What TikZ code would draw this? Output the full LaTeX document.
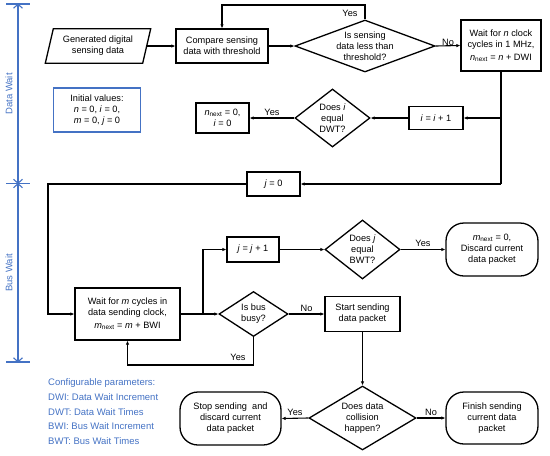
\documentclass[tikz,border=0pt]{standalone}
\usepackage{fontspec}
\setmainfont{Liberation Sans}
\usetikzlibrary{arrows.meta,shapes.geometric}
\definecolor{axblue}{RGB}{68,114,196}
\begin{document}
\begin{tikzpicture}[x=1pt,y=-1pt,
  font=\fontsize{9.2}{11}\selectfont,
  box/.style={draw,line width=1.3pt,align=center,inner sep=1pt},
  term/.style={box,rounded corners=18pt},
  dia/.style={draw,diamond,line width=1.3pt,inner sep=0pt},
  txt/.style={align=center,inner sep=0pt},
  conn/.style={line width=1.1pt,-{Latex[length=4pt,width=3.5pt]}},
  plain/.style={line width=1.1pt},
  ax/.style={axblue,line width=1.1pt},
  axarr/.style={ax,{Straight Barb[length=4pt,width=9pt]}-{Straight Barb[length=4pt,width=9pt]}},
  lbl/.style={inner sep=1pt},
  cfg/.style={axblue,anchor=west,inner sep=0pt,font=\fontsize{9.5}{10}\selectfont}]
\useasboundingbox (0,0) rectangle (550,456);
% axis
\coordinate (a0) at (18,4); \coordinate (a1) at (18,183.5); \coordinate (a2) at (18,362);
\draw[ax] (6,4) -- (30,4);
\draw[ax] (6,183.5) -- (30,183.5);
\draw[ax] (6,362) -- (30,362);
\draw[axarr] ([yshift=0.5]a0) -- ([yshift=-0.5]a1);
\draw[axarr] ([yshift=0.5]a1) -- ([yshift=-0.5]a2);
\node[axblue,rotate=90,font=\fontsize{9.5}{10}\selectfont] (dw) at (9,94) {Data Wait};
\node[axblue,rotate=90,font=\fontsize{9.5}{10}\selectfont] (bw) at (9,273) {Bus Wait};
% nodes
\node[txt,minimum width=97,minimum height=34] (gen) at (98,46) {Generated digital\\sensing data};
\draw[line width=1.3pt] ([xshift=4]gen.north west) -- ([xshift=4]gen.north east) -- ([xshift=-4]gen.south east) -- ([xshift=-4]gen.south west) -- cycle;
\node[box,minimum width=92,minimum height=34] (cmp) at (222,46) {Compare sensing\\data with threshold};
\node[dia,minimum width=140,minimum height=52] (d1) at (365,46) {};
\node[txt] (d1t) at (d1) {Is sensing\\data less than\\threshold?};
\node[box,minimum width=80,minimum height=51] (wn) at (501,45.5) {Wait for \textit{n} clock\\cycles in 1 MHz,\\[2pt]\textit{n}\textsubscript{next} = \textit{n} + DWI};
\node[box,minimum width=54,minimum height=23] (ii) at (436,118) {\textit{i} = \textit{i} + 1};
\node[dia,minimum width=75,minimum height=58] (di) at (332.5,118) {};
\node[txt] (dit) at (di) {Does \textit{i}\\equal\\DWT?};
\node[box,minimum width=53,minimum height=30] (nn) at (222.5,118) {\textit{n}\textsubscript{next} = 0,\\\textit{i} = 0};
\node[draw=axblue,line width=1.5pt,align=center,minimum width=87,minimum height=44] (init) at (97,110) {Initial values:\\\textit{n} = 0, \textit{i} = 0,\\\textit{m} = 0, \textit{j} = 0};
\node[box,minimum width=53,minimum height=24] (j0) at (273.5,184) {\textit{j} = 0};
\node[box,minimum width=105,minimum height=52] (wm) at (127.5,314) {Wait for \textit{m} cycles in\\data sending clock,\\[2pt]\textit{m}\textsubscript{next} = \textit{m} + BWI};
\node[dia,minimum width=69,minimum height=45] (bus) at (253.5,314) {};
\node[txt] (bust) at (bus) {Is bus\\busy?};
\node[box,minimum width=52,minimum height=25] (jj) at (253,249.5) {\textit{j} = \textit{j} + 1};
\node[dia,minimum width=75,minimum height=59] (dj) at (362.5,249.5) {};
\node[txt] (djt) at (dj) {Does \textit{j}\\equal\\BWT?};
\node[term,minimum width=92,minimum height=53] (mn) at (492,249.5) {\textit{m}\textsubscript{next} = 0,\\Discard current\\data packet};
\node[box,minimum width=75,minimum height=35] (st) at (362.5,314) {Start sending\\data packet};
\node[dia,minimum width=107,minimum height=64] (col) at (362.5,418) {};
\node[txt] (colt) at (col) {Does data\\collision\\happen?};
\node[term,minimum width=101,minimum height=53] (stop) at (230.5,418.5) {Stop sending\ \ and\\discard current\\data packet};
\node[term,minimum width=92,minimum height=52] (fin) at (492,418) {Finish sending\\current data\\packet};
% config
\node[cfg] (c1) at (48,383) {Configurable parameters:};
\node[cfg] (c2) at (48,397.5) {DWI: Data Wait Increment};
\node[cfg] (c3) at (48,412) {DWT: Data Wait Times};
\node[cfg] (c4) at (48,426.5) {BWI: Bus Wait Increment};
\node[cfg] (c5) at (48,441) {BWT: Bus Wait Times};
% connectors
\draw[conn] (gen.east) -- (cmp.west);
\draw[conn] (cmp.east) -- (d1.west);
\draw[conn] (d1.north) |- (222,5) -- (cmp.north);
\node[lbl] (y1) at (350,13) {Yes};
\draw[conn] (d1.east) -- node[lbl,above=-1pt] (n1) {No} (wn.west);
\coordinate (br1) at (501,118);
\coordinate (br2) at (501,184);
\draw[plain] (wn.south) -- (br2);
\draw[conn] (br2) -- (j0.east);
\draw[conn] (br1) -- (ii.east);
\draw[conn] (ii.west) -- (di.east);
\draw[conn] (di.west) -- node[lbl,above=1pt] (y2) {Yes} (nn.east);
\coordinate (lc) at (48,184);
\draw[conn] (j0.west) -- (lc) |- (wm.west);
\draw[conn] (wm.east) -- (bus.west);
\coordinate (br3) at (203,314);
\draw[conn] (br3) |- (jj.west);
\draw[conn] (jj.east) -- (dj.west);
\draw[conn] (dj.east) -- node[lbl,above=1pt] (y3) {Yes} (mn.west);
\coordinate (lb) at (253.5,365);
\draw[conn] (bus.south) -- (lb) -| (wm.south);
\node[lbl] (y4) at (238,357) {Yes};
\draw[conn] (bus.east) -- node[lbl,above=1pt] (n2) {No} (st.west);
\draw[conn] (st.south) -- (col.north);
\draw[conn] (col.west) -- node[lbl,above=1pt] (y5) {Yes} (stop.east);
\draw[conn] (col.east) -- node[lbl,above=1pt] (n3) {No} (fin.west);
\end{tikzpicture}
\end{document}
